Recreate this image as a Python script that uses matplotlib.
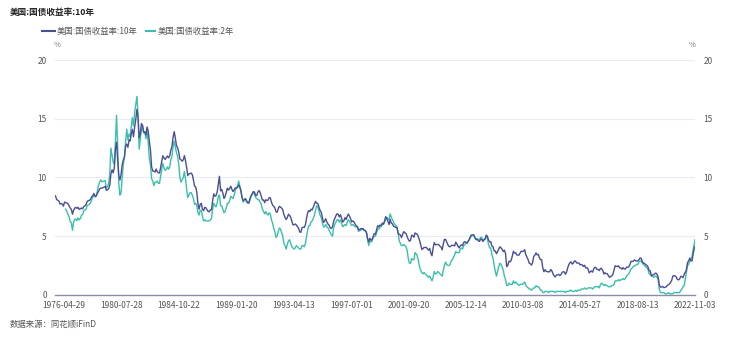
import matplotlib
matplotlib.use("Agg")
from matplotlib import pyplot as plt
import pandas as pd

plt.rcParams['font.family'] = ['Noto Sans CJK SC', 'DejaVu Sans']

title = "美国:国债收益率:10年"
name_10y = "美国:国债收益率:10年"
name_2y = "美国:国债收益率:2年"
source = "数据来源：同花顺iFinD"

# monthly readings, 10y from 1975-09, 2y from 1976-06, both up to 2022-11
start_10y = "1975-09-01"
start_2y = "1976-06-01"
end_date = "2022-11-03"

yield_10y = [
    8.43, 8.14, 8.05, 8.00,  # 1975
    7.74, 7.79, 7.73, 7.56, 7.90, 7.86, 7.83, 7.77, 7.59, 7.41, 7.29, 6.87,
    7.21, 7.39, 7.46, 7.37, 7.46, 7.28, 7.33, 7.40, 7.34, 7.52, 7.58, 7.69,
    7.96, 8.03, 8.04, 8.15, 8.35, 8.46, 8.64, 8.41, 8.42, 8.64, 8.81, 9.01,
    9.10, 9.10, 9.12, 9.18, 9.25, 8.91, 8.95, 9.03, 9.33, 10.30, 10.65, 10.39,
    10.80, 12.41, 13.0, 11.47, 10.18, 9.78, 10.25, 11.10, 11.51, 11.75, 12.68, 12.84,  # 1980
    12.57, 13.19, 13.12, 13.68, 14.10, 13.47, 14.28, 14.94, 15.80, 15.15, 13.39, 13.72,
    14.59, 14.43, 13.86, 13.87, 13.62, 14.30, 13.95, 13.06, 12.34, 10.91, 10.55, 10.54,
    10.46, 10.72, 10.51, 10.40, 10.38, 10.85, 11.38, 11.85, 11.65, 11.54, 11.69, 11.83,
    11.67, 11.84, 12.32, 12.63, 13.41, 13.90, 13.36, 12.72, 12.52, 12.16, 11.57, 11.50,
    11.38, 11.51, 11.86, 11.43, 10.85, 10.16, 10.31, 10.33, 10.37, 10.24, 9.78, 9.26,  # 1985
    9.19, 8.70, 7.78, 7.30, 7.71, 7.80, 7.30, 7.17, 7.45, 7.43, 7.25, 7.11,
    7.08, 7.25, 7.25, 8.02, 8.61, 8.40, 8.45, 8.76, 9.42, 10.1, 8.86, 8.99,
    8.67, 8.21, 8.37, 8.72, 9.09, 8.92, 9.06, 9.26, 8.98, 8.80, 8.96, 9.11,
    9.09, 9.17, 9.36, 9.18, 8.86, 8.28, 8.02, 8.11, 8.19, 8.01, 7.87, 7.84,
    8.21, 8.47, 8.59, 8.79, 8.76, 8.48, 8.47, 8.75, 8.89, 8.72, 8.39, 8.08,  # 1990
    8.09, 7.85, 8.11, 8.04, 8.07, 8.28, 8.27, 7.90, 7.65, 7.53, 7.42, 7.09,
    7.03, 7.34, 7.54, 7.48, 7.39, 7.26, 6.84, 6.59, 6.42, 6.59, 6.87, 6.77,
    6.60, 6.26, 5.98, 5.97, 6.04, 5.96, 5.81, 5.68, 5.36, 5.33, 5.72, 5.77,
    5.75, 5.97, 6.48, 6.97, 7.18, 7.10, 7.30, 7.24, 7.46, 7.74, 7.96, 7.81,
    7.78, 7.47, 7.20, 7.06, 6.63, 6.17, 6.28, 6.49, 6.20, 6.04, 5.93, 5.71,  # 1995
    5.65, 5.81, 6.27, 6.51, 6.74, 6.91, 6.87, 6.64, 6.83, 6.53, 6.20, 6.30,
    6.58, 6.42, 6.69, 6.89, 6.71, 6.49, 6.22, 6.30, 6.21, 6.03, 5.88, 5.81,
    5.54, 5.57, 5.65, 5.64, 5.65, 5.50, 5.46, 5.34, 4.81, 4.53, 4.83, 4.65,
    4.72, 5.00, 5.23, 5.18, 5.54, 5.90, 5.79, 5.94, 5.92, 6.11, 6.03, 6.28,
    6.66, 6.52, 6.26, 5.99, 6.44, 6.10, 6.05, 5.83, 5.80, 5.74, 5.72, 5.24,  # 2000
    5.16, 5.10, 4.89, 5.14, 5.39, 5.28, 5.24, 4.97, 4.73, 4.57, 4.65, 5.09,
    5.04, 4.91, 5.28, 5.21, 5.16, 4.93, 4.65, 4.26, 3.87, 3.94, 4.05, 4.03,
    4.05, 3.90, 3.81, 3.96, 3.57, 3.33, 3.98, 4.45, 4.27, 4.29, 4.30, 4.27,
    4.15, 4.08, 3.83, 4.35, 4.72, 4.73, 4.50, 4.28, 4.13, 4.10, 4.19, 4.23,
    4.22, 4.17, 4.50, 4.34, 4.14, 4.00, 4.18, 4.26, 4.20, 4.46, 4.54, 4.47,  # 2005
    4.42, 4.57, 4.72, 4.99, 5.11, 5.11, 5.09, 4.88, 4.72, 4.73, 4.60, 4.56,
    4.76, 4.72, 4.56, 4.69, 4.75, 5.10, 5.00, 4.67, 4.52, 4.53, 4.15, 4.10,
    3.74, 3.74, 3.51, 3.68, 3.88, 4.10, 4.01, 3.89, 3.69, 3.81, 3.53, 2.42,
    2.52, 2.87, 2.82, 2.93, 3.29, 3.72, 3.56, 3.59, 3.40, 3.39, 3.40, 3.59,
    3.73, 3.69, 3.73, 3.85, 3.42, 3.20, 3.01, 2.70, 2.65, 2.54, 2.76, 3.29,  # 2010
    3.39, 3.58, 3.41, 3.46, 3.17, 3.00, 3.00, 2.30, 1.98, 2.15, 2.01, 1.98,
    1.97, 1.97, 2.17, 2.05, 1.80, 1.62, 1.53, 1.68, 1.72, 1.75, 1.65, 1.72,
    1.91, 1.98, 1.96, 1.76, 1.93, 2.30, 2.58, 2.74, 2.81, 2.62, 2.72, 2.90,
    2.86, 2.71, 2.72, 2.71, 2.56, 2.60, 2.54, 2.42, 2.53, 2.30, 2.33, 2.21,
    1.88, 1.98, 2.04, 1.94, 2.20, 2.36, 2.32, 2.17, 2.17, 2.07, 2.26, 2.24,  # 2015
    2.09, 1.78, 1.89, 1.81, 1.81, 1.64, 1.50, 1.56, 1.63, 1.76, 2.14, 2.49,
    2.43, 2.42, 2.48, 2.30, 2.30, 2.19, 2.32, 2.21, 2.20, 2.36, 2.35, 2.40,
    2.58, 2.86, 2.84, 2.87, 2.98, 2.91, 2.89, 2.89, 3.00, 3.15, 3.12, 2.83,
    2.71, 2.68, 2.57, 2.53, 2.40, 2.07, 2.06, 1.63, 1.70, 1.71, 1.81, 1.86,
    1.76, 1.50, 0.87, 0.66, 0.67, 0.73, 0.62, 0.65, 0.68, 0.79, 0.87, 0.93,  # 2020
    1.08, 1.26, 1.61, 1.64, 1.62, 1.52, 1.32, 1.28, 1.37, 1.58, 1.56, 1.47,
    1.76, 1.93, 2.13, 2.75, 2.90, 3.14, 2.90, 2.90, 3.52, 3.98, 4.15,
]

yield_2y = [
    7.31, 7.12, 6.86, 6.66, 6.25, 6.14, 5.50,  # 1976
    6.22, 6.44, 6.47, 6.32, 6.55, 6.39, 6.51, 6.79, 6.84, 7.19, 7.22, 7.30,
    7.61, 7.67, 7.70, 7.85, 8.07, 8.30, 8.54, 8.33, 8.41, 8.82, 9.30, 9.60,
    9.79, 9.64, 9.66, 9.71, 9.75, 9.10, 9.21, 9.50, 10.27, 12.5, 11.93, 11.34,
    11.12, 13.08, 15.30, 12.68, 9.45, 8.50, 8.67, 10.02, 11.15, 11.79, 13.05, 14.11,  # 1980
    13.2, 13.7, 13.5, 14.3, 15.1, 14.4, 15.5, 16.2, 16.9, 15.3, 12.4, 13.3,
    14.1, 14.3, 13.8, 13.9, 13.3, 13.9, 13.0, 11.6, 11.1, 9.9, 9.7, 9.3,
    9.6, 9.6, 9.7, 9.5, 9.5, 10.1, 10.7, 11.2, 10.8, 10.6, 10.7, 10.9,
    10.7, 10.9, 11.5, 11.8, 12.6, 13.1, 12.6, 12.1, 11.8, 11.1, 10.0, 9.6,
    9.8, 10.0, 10.5, 9.9, 9.0, 8.3, 8.5, 8.7, 8.7, 8.5, 8.2, 7.7,  # 1985
    7.8, 7.6, 7.0, 6.8, 7.2, 7.2, 6.7, 6.3, 6.4, 6.3, 6.3, 6.3,
    6.3, 6.4, 6.5, 7.3, 7.8, 7.6, 7.5, 7.8, 8.4, 8.5, 7.6, 7.6,
    7.3, 7.0, 7.1, 7.4, 7.8, 7.8, 8.0, 8.4, 8.3, 8.2, 8.5, 8.9,
    9.1, 9.3, 9.7, 9.3, 8.9, 8.3, 7.9, 8.1, 8.2, 7.9, 7.8, 7.8,
    8.1, 8.4, 8.6, 8.8, 8.6, 8.3, 8.2, 8.1, 8.1, 7.9, 7.7, 7.3,  # 1990
    7.1, 6.9, 7.1, 6.9, 6.8, 7.0, 6.9, 6.4, 6.1, 5.7, 5.4, 4.9,
    5.0, 5.4, 5.7, 5.6, 5.3, 5.0, 4.4, 4.2, 3.9, 4.3, 4.6, 4.7,
    4.4, 4.1, 4.0, 3.9, 4.0, 4.2, 4.1, 4.0, 3.9, 3.9, 4.2, 4.2,
    4.1, 4.4, 4.9, 5.5, 5.9, 5.9, 6.2, 6.3, 6.5, 6.8, 7.2, 7.6,
    7.5, 7.1, 6.8, 6.6, 6.2, 5.8, 5.8, 6.0, 5.8, 5.7, 5.5, 5.3,  # 1995
    5.1, 5.0, 5.7, 6.0, 6.2, 6.4, 6.4, 6.2, 6.4, 6.1, 5.8, 5.9,
    6.0, 5.9, 6.2, 6.4, 6.3, 6.1, 5.9, 6.0, 5.9, 5.8, 5.8, 5.8,
    5.4, 5.5, 5.5, 5.6, 5.6, 5.5, 5.5, 5.3, 4.7, 4.2, 4.6, 4.5,
    4.6, 4.9, 5.0, 5.0, 5.3, 5.6, 5.6, 5.8, 5.8, 6.0, 6.0, 6.2,
    6.4, 6.6, 6.5, 6.4, 6.9, 6.6, 6.4, 6.2, 6.0, 5.9, 5.8, 5.3,  # 2000
    4.6, 4.4, 4.2, 4.2, 4.3, 4.2, 4.1, 3.8, 3.1, 2.7, 2.7, 3.1,
    3.0, 3.0, 3.6, 3.5, 3.3, 2.9, 2.4, 2.1, 1.9, 1.8, 1.9, 1.8,
    1.7, 1.6, 1.5, 1.6, 1.4, 1.2, 1.5, 2.0, 1.8, 1.8, 2.0, 1.9,
    1.8, 1.7, 1.6, 2.1, 2.5, 2.8, 2.6, 2.5, 2.5, 2.6, 2.9, 3.0,
    3.2, 3.4, 3.7, 3.6, 3.6, 3.6, 3.9, 4.0, 3.9, 4.2, 4.3, 4.4,  # 2005
    4.4, 4.6, 4.7, 4.9, 5.0, 5.1, 5.1, 4.8, 4.7, 4.8, 4.7, 4.7,
    4.9, 4.9, 4.6, 4.7, 4.8, 5.0, 4.8, 4.3, 4.0, 4.0, 3.4, 3.1,
    2.5, 2.0, 1.6, 2.0, 2.4, 2.7, 2.6, 2.4, 2.1, 1.6, 1.3, 0.8,
    0.8, 1.0, 0.9, 0.9, 0.9, 1.2, 1.0, 1.1, 1.0, 0.9, 0.8, 0.9,
    0.9, 0.9, 1.0, 1.1, 0.8, 0.7, 0.6, 0.5, 0.5, 0.4, 0.5, 0.6,  # 2010
    0.6, 0.8, 0.7, 0.7, 0.6, 0.4, 0.4, 0.2, 0.2, 0.3, 0.3, 0.3,
    0.2, 0.3, 0.3, 0.3, 0.3, 0.3, 0.2, 0.3, 0.3, 0.3, 0.3, 0.3,
    0.3, 0.3, 0.3, 0.2, 0.3, 0.3, 0.3, 0.4, 0.4, 0.3, 0.3, 0.3,
    0.4, 0.3, 0.4, 0.4, 0.4, 0.5, 0.5, 0.5, 0.6, 0.5, 0.5, 0.6,
    0.6, 0.6, 0.6, 0.5, 0.6, 0.7, 0.7, 0.7, 0.7, 0.6, 0.9, 1.0,  # 2015
    0.9, 0.8, 0.9, 0.8, 0.8, 0.7, 0.7, 0.7, 0.8, 0.8, 0.9, 1.2,
    1.2, 1.2, 1.3, 1.2, 1.3, 1.3, 1.4, 1.3, 1.4, 1.6, 1.7, 1.8,
    2.0, 2.2, 2.3, 2.4, 2.5, 2.5, 2.6, 2.6, 2.8, 2.9, 2.9, 2.7,
    2.6, 2.5, 2.4, 2.3, 2.2, 1.8, 1.8, 1.6, 1.6, 1.5, 1.6, 1.6,
    1.5, 1.3, 0.5, 0.2, 0.2, 0.2, 0.2, 0.1, 0.1, 0.1, 0.2, 0.1,  # 2020
    0.1, 0.1, 0.1, 0.2, 0.2, 0.2, 0.2, 0.2, 0.2, 0.4, 0.5, 0.7,
    0.8, 1.4, 1.9, 2.5, 2.6, 2.9, 3.0, 3.3, 3.9, 4.4, 4.7,
]

tick_dates = ["1976-04-29", "1980-07-28", "1984-10-22", "1989-01-20", "1993-04-13",
              "1997-07-01", "2001-09-20", "2005-12-14", "2010-03-08", "2014-05-27",
              "2018-08-13", "2022-11-03"]
y_ticks = [0, 5, 10, 15, 20]


def month_dates(start, n):
	d = pd.date_range(start, periods=n, freq="MS") + pd.Timedelta(days=14)
	d = d.to_series().reset_index(drop=True)
	d.iloc[-1] = pd.Timestamp(end_date)
	return d


x_10y = month_dates(start_10y, len(yield_10y))
x_2y = month_dates(start_2y, len(yield_2y))

c_10y = "#4a4f94"
c_2y = "#3cbfaa"
grey = "#555555"

fig = plt.figure(figsize=(7.5, 3.39), dpi=100)
ax = fig.add_axes([0.0733, 0.13, 0.8534, 0.693])

ax.plot(x_10y, yield_10y, color=c_10y, lw=1.0, zorder=3)
ax.plot(x_2y, yield_2y, color=c_2y, lw=1.0, zorder=2)

ax.set_ylim(0, 20)
ax.set_xlim(pd.Timestamp(start_10y), pd.Timestamp(end_date))
ax.set_yticks(y_ticks)
ax.set_xticks([pd.Timestamp(t) for t in tick_dates])
ax.set_xticklabels(tick_dates)
ax.tick_params(axis="both", length=0, labelsize=6, colors=grey)
ax.tick_params(axis="x", pad=4.5)
ax.tick_params(axis="y", pad=6)
for s in ["top", "right", "left"]:
	ax.spines[s].set_visible(False)
ax.spines["bottom"].set_color("#8a8ea8")
ax.spines["bottom"].set_linewidth(1.0)
ax.grid(axis="y", color="#ebebf2", lw=0.8)
ax.set_axisbelow(True)

ax2 = ax.twinx()
ax2.set_ylim(0, 20)
ax2.set_yticks(y_ticks)
ax2.tick_params(axis="y", length=0, labelsize=6, colors=grey, pad=6)
for s in ["top", "right", "left", "bottom"]:
	ax2.spines[s].set_visible(False)

fig.text(0.0765, 0.868, "%", fontsize=5.5, color="#777777", ha="center", va="center")
fig.text(0.9225, 0.868, "%", fontsize=5.5, color="#777777", ha="center", va="center")

fig.text(0.013, 0.962, title, fontsize=6.2, fontweight="bold", color="#222222", va="center")
fig.text(0.013, 0.045, source, fontsize=6, color=grey, va="center")

# legend drawn by hand
fig.lines.append(plt.Line2D([0.056, 0.073], [0.908, 0.908], color=c_10y, lw=1.5, transform=fig.transFigure))
fig.text(0.076, 0.908, name_10y, fontsize=6, color=grey, va="center")
fig.lines.append(plt.Line2D([0.194, 0.207], [0.908, 0.908], color=c_2y, lw=1.5, transform=fig.transFigure))
fig.text(0.210, 0.908, name_2y, fontsize=6, color=grey, va="center")

plt.savefig("out.png", dpi=100)
